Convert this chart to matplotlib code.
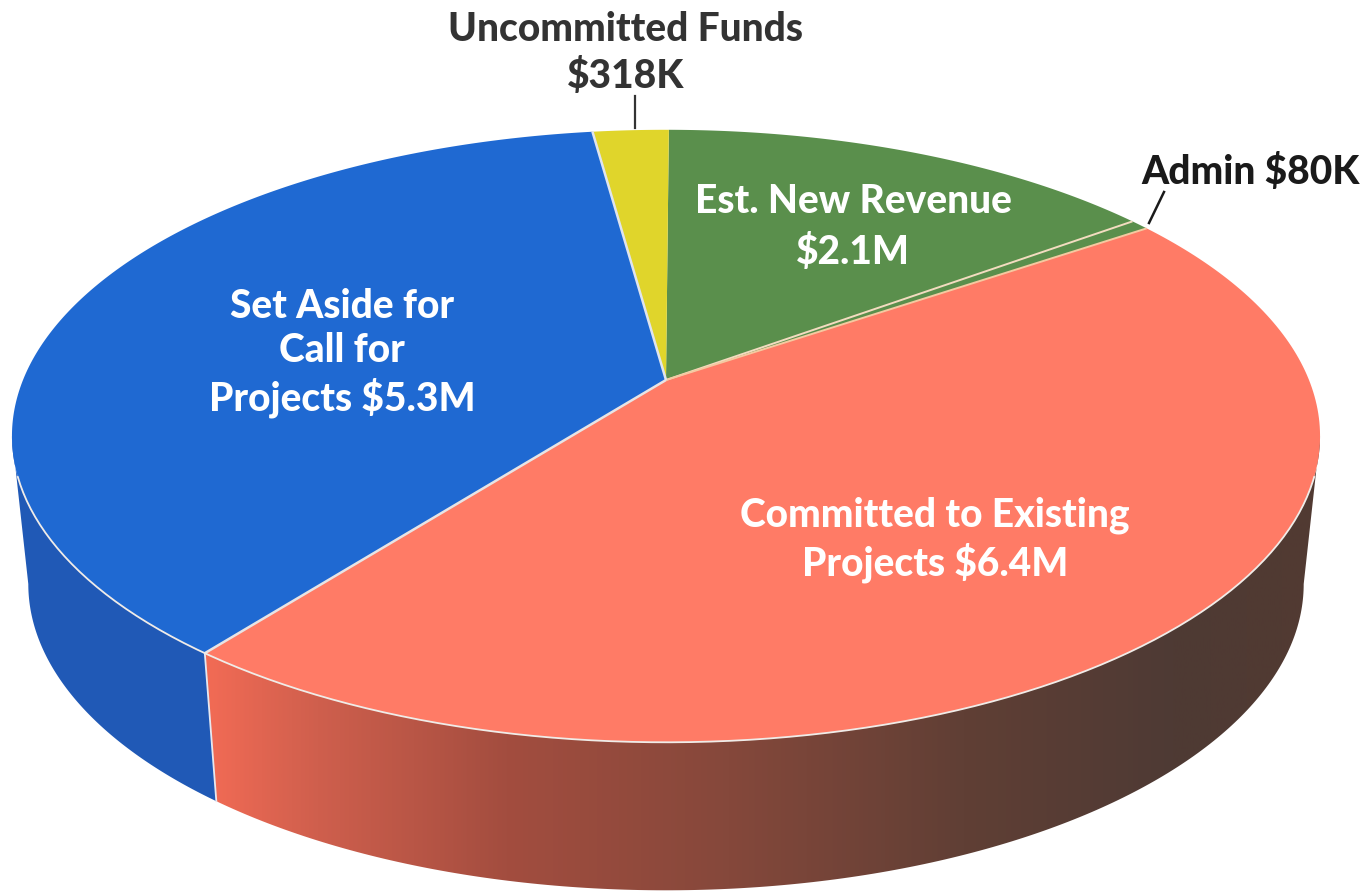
import numpy as np
import matplotlib
matplotlib.use('Agg')
import matplotlib.pyplot as plt
from matplotlib.patches import Polygon
from matplotlib.colors import LinearSegmentedColormap

# values in $M, clockwise from 12 o'clock
slice_names = ["Est. New Revenue", "Admin", "Committed to Existing Projects", "Set Aside for Call for Projects", "Uncommitted Funds"]
slice_values = [2.1, 0.08, 6.4, 5.3, 0.318]
slice_colors = ["#5a8f4c", "#5a8f4c", "#ff7b66", "#1f69d2", "#e0d52b"]
edge_colors = ["#f3dcc0", "#f5c9a0", "#e8e4e4", "#dfe4ee", "#f4f0c0"]

# inner labels
inner_labels = ["Est. New Revenue\n$2.1M", "Set Aside for\nCall for\nProjects $5.3M", "Committed to Existing\nProjects $6.4M"]
outer_labels = ["Uncommitted Funds\n$318K", "Admin $80K"]

# pie geometry in image pixels
CX, CY = 666, 380
A, B = 643, 296
K = 0.183
DEPTH = 148
SHRINK = 0.975
START_ANGLE = 89.7


def top_xy(t):
    # circle -> perspective ellipse, t in degrees
    t = np.radians(t)
    w = 1 + K * np.sin(t)
    return CX + A * np.cos(t) / w, CY - B * np.sin(t) / w


def low_xy(t):
    x, y = top_xy(t)
    return CX + SHRINK * (x - CX), y + DEPTH


def arc(func, t1, t2, n=200):
    x, y = func(np.linspace(t1, t2, n))
    return np.column_stack([x, y])


fig = plt.figure(figsize=(13.71, 8.92), dpi=100)
ax = fig.add_axes([0, 0, 1, 1])
ax.set_xlim(0, 1371)
ax.set_ylim(892, 0)
ax.axis('off')

sweep = np.array(slice_values) / sum(slice_values) * 360
ends = START_ANGLE - np.cumsum(sweep)
starts = ends + sweep

# front wall, visible from the left silhouette round to the right one
t_left = 180 + np.degrees(np.arcsin(K))
t_right = 360 - np.degrees(np.arcsin(K))
blue_end = ends[2] + 360

blue_wall = np.vstack([arc(top_xy, t_left, blue_end), arc(low_xy, blue_end, t_left)])
ax.add_patch(Polygon(blue_wall, closed=True, fc="#2059b6", ec="none", zorder=1))

red_wall = np.vstack([arc(top_xy, blue_end, t_right), arc(low_xy, t_right, blue_end)])
wall_cmap = LinearSegmentedColormap.from_list("wall", [
    (0.0, "#f26b55"), (0.1, "#cf5f4d"), (0.27, "#a34d3f"), (0.47, "#85483b"),
    (0.68, "#603f35"), (0.87, "#4e3a34"), (1.0, "#523a32")])
grad = np.linspace(0, 1, 512).reshape(1, -1)
x0, x1 = red_wall[:, 0].min(), red_wall[:, 0].max()
img = ax.imshow(grad, cmap=wall_cmap, extent=[x0, x1, 892, 400], aspect='auto', zorder=1)
clip = Polygon(red_wall, closed=True, fc="none", ec="none", transform=ax.transData)
ax.add_patch(clip)
img.set_clip_path(clip)
ax.set_xlim(0, 1371)
ax.set_ylim(892, 0)

# seam between the blue and red walls
sx, sy = top_xy(blue_end)
lx, ly = low_xy(blue_end)
ax.plot([sx, lx], [sy, ly], color="#e6e8f0", lw=1.3, zorder=2)

# top face
for i in range(len(slice_values)):
    pts = np.vstack([[CX, CY], arc(top_xy, starts[i], ends[i])])
    ax.add_patch(Polygon(pts, closed=True, fc=slice_colors[i], ec="none", zorder=3))

# thin light lines between the slices
for i in range(len(slice_values) - 1):
    x, y = top_xy(ends[i])
    ax.plot([CX, x], [CY, y], color=edge_colors[i], lw=1.4 if i < 2 else 1.8, solid_capstyle='butt', zorder=4)

# light rim along the front, fades out where the wall starts to show
rim = arc(top_xy, 198, 342)
ax.plot(rim[:, 0], rim[:, 1], color="#f0ece8", lw=1.3, zorder=4)

FONT = ["Lato", "DejaVu Sans"]
white = dict(color="white", fontsize=28, fontweight=900, family=FONT, ha='center', va='center', zorder=5)
dark = dict(fontsize=28, fontweight=900, family=FONT, ha='center', va='center', zorder=5)

ax.text(853, 227, inner_labels[0], linespacing=1.42, **white)
ax.text(342, 353, inner_labels[1], linespacing=1.25, **white)
ax.text(935, 540, inner_labels[2], linespacing=1.25, **white)
ax.text(626, 53, outer_labels[0], color="#333333", linespacing=1.3, **dark)
ax.text(1251, 172, outer_labels[1], color="#1a1a1a", **dark)

# leader lines
ax.plot([635, 635], [96, 128], color="#333333", lw=1.6, zorder=5)
ax.plot([1164, 1149], [192, 223], color="#1a1a1a", lw=1.8, zorder=5)

fig.savefig("out.png", dpi=100, facecolor="white")
plt.close(fig)
